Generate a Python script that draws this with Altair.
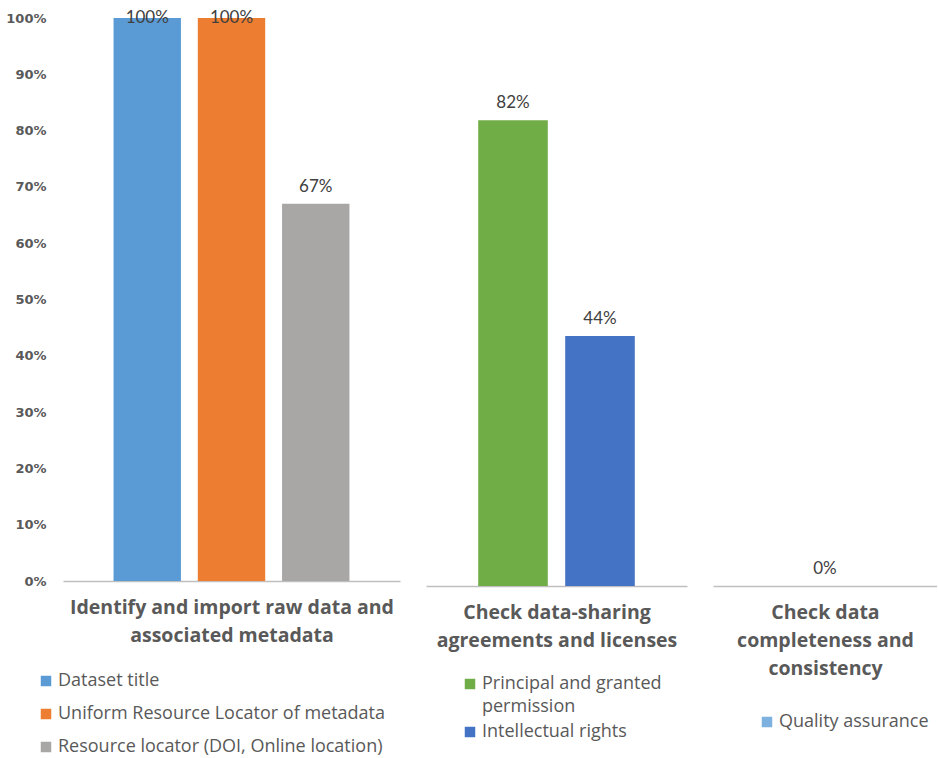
import altair as alt
import pandas as pd

# Group titles (shown under each panel, one list entry per line)
group_titles = [
    ["Identify and import raw data and", "associated metadata"],
    ["Check data-sharing", "agreements and licenses"],
    ["Check data", "completeness and", "consistency"],
]

# Series shown in each group, with their shares
series_names = [
    ["Dataset title", "Uniform Resource Locator of metadata",
     "Resource locator (DOI, Online location)"],
    ["Principal and granted permission", "Intellectual rights"],
    ["Quality assurance"],
]
series_values = [
    [1.00, 1.00, 0.67],
    [0.82, 0.44],
    [0.00],
]
series_colors = [
    ["#5B9BD5", "#ED7D31", "#A9A7A5"],
    ["#70AD47", "#4472C4"],
    ["#7DB1E0"],
]

# Legend labels that wrap onto two lines
wrapped_labels = {
    "Principal and granted permission": ["Principal and granted", "permission"],
}

y_ticks = [0.0, 0.1, 0.2, 0.3, 0.4, 0.5, 0.6, 0.7, 0.8, 0.9, 1.0]

# Layout of each panel: plot size and legend placement
panel_width = [337, 261, 224]
panel_height = [563, 568, 568]
legend_x = [-26, 35, 45]
legend_y = [654, 657, 695]
legend_row_pad = [15, 7, 15]

TEXT_GREY = "#595959"
LABEL_GREY = "#404040"


def label_expr():
    parts = []
    for full, lines in wrapped_labels.items():
        arr = "[" + ", ".join("'" + s + "'" for s in lines) + "]"
        parts.append(f"datum.label == '{full}' ? {arr} : ")
    return "".join(parts) + "datum.label"


def panel(i):
    df = pd.DataFrame({"series": series_names[i], "value": series_values[i]})
    base = alt.Chart(df)

    x = alt.X(
        "series:N",
        sort=series_names[i],
        scale=alt.Scale(paddingInner=0.2, paddingOuter=0.6),
        axis=alt.Axis(
            title=group_titles[i],
            labels=False,
            ticks=False,
            domainColor="#BFBFBF",
            domainWidth=1.5,
            titleFont="Open Sans",
            titleFontSize=19.5,
            titleFontWeight="bold",
            titleColor=TEXT_GREY,
            titleLineHeight=28,
            titlePadding=17,
        ),
    )
    if i == 0:
        y_axis = alt.Axis(
            format=".0%",
            values=y_ticks,
            labelFont="DejaVu Sans",
            labelFontWeight="bold",
            labelFontSize=13,
            labelColor=TEXT_GREY,
            labelPadding=17,
            domain=False,
            ticks=False,
            grid=False,
            title=None,
        )
    else:
        y_axis = None
    y = alt.Y("value:Q", scale=alt.Scale(domain=[0, 1]), axis=y_axis)

    color = alt.Color(
        "series:N",
        sort=series_names[i],
        scale=alt.Scale(domain=series_names[i], range=series_colors[i]),
        legend=alt.Legend(
            title=None,
            orient="none",
            legendX=legend_x[i],
            legendY=legend_y[i],
            direction="vertical",
            symbolType="square",
            symbolSize=110,
            symbolStrokeWidth=0,
            labelFont="Open Sans",
            labelFontSize=18,
            labelColor=TEXT_GREY,
            labelOffset=3,
            labelLimit=500,
            labelExpr=label_expr(),
            rowPadding=legend_row_pad[i],
            padding=0,
        ),
    )

    bars = base.mark_bar().encode(x=x, y=y, color=color)

    text_style = dict(font="Lato", fontSize=17, color=LABEL_GREY, baseline="alphabetic")
    above = base.transform_filter("datum.value < 1").mark_text(dy=-12, **text_style).encode(
        x=x, y=y, text=alt.Text("value:Q", format=".0%")
    )
    inside = base.transform_filter("datum.value >= 1").mark_text(dy=5, **text_style).encode(
        x=x, y=y, text=alt.Text("value:Q", format=".0%")
    )

    return alt.layer(bars, above, inside).properties(
        width=panel_width[i], height=panel_height[i]
    )


chart = (
    alt.hconcat(panel(0), panel(1), panel(2), spacing=26, bounds="flush")
    .resolve_scale(color="independent", x="independent", y="independent")
    .configure(style={"guide-label": {"lineHeight": 23}})
    .configure_view(stroke=None)
    .properties(padding={"left": 5, "top": 9, "right": 0, "bottom": 0}, background="white")
)

chart.save("out.html", embed_options={"renderer": "svg", "actions": False})
